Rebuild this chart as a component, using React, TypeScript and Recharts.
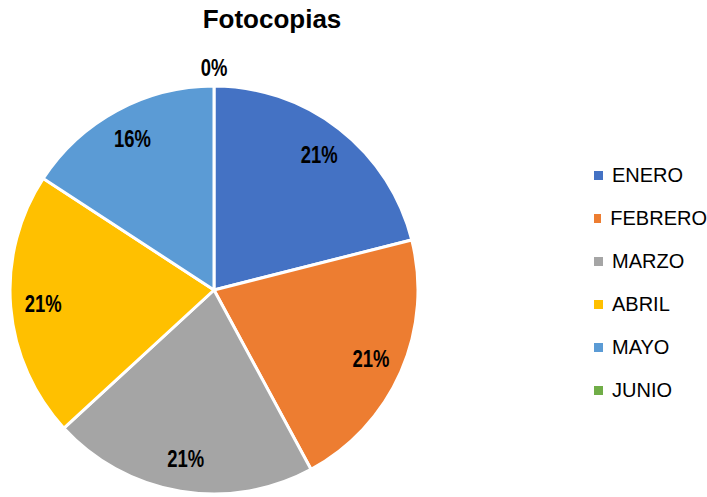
import { Cell, Legend, Pie, PieChart } from 'recharts';

const months = ['ENERO', 'FEBRERO', 'MARZO', 'ABRIL', 'MAYO', 'JUNIO'];
const copies = [4, 4, 4, 4, 3, 0];
const colors = ['#4472C4', '#ED7D31', '#A5A5A5', '#FFC000', '#5B9BD5', '#70AD47'];

const data = months.map((name, i) => ({ name, value: copies[i] }));

const RAD = Math.PI / 180;
const baseFont = '"Liberation Sans", Arial, sans-serif';

function renderLabel(props: any) {
  const { cx, cy, midAngle, outerRadius, percent, value } = props;
  const r = value === 0 ? outerRadius + 18 : outerRadius * 0.84;
  const x = cx + r * Math.cos(-midAngle * RAD);
  const y = cy + r * Math.sin(-midAngle * RAD);
  const txt = `${Math.round(percent * 100)}%`;
  // narrow bold look: squeeze glyphs like Arial Narrow
  const len = 22.5 * (0.456 * (txt.length - 1) + 0.729);
  return (
    <text
      x={x}
      y={y}
      textAnchor="middle"
      dominantBaseline="central"
      fontFamily={baseFont}
      fontWeight="bold"
      fontSize={23}
      textLength={len}
      lengthAdjust="spacingAndGlyphs"
      fill="#000"
    >
      {txt}
    </text>
  );
}

function renderLegend() {
  return (
    <ul style={{ listStyle: 'none', margin: 0, padding: 0 }}>
      {months.map((m, i) => (
        <li
          key={m}
          style={{ display: 'flex', alignItems: 'center', height: 43, fontFamily: baseFont, fontSize: 20, color: '#000' }}
        >
          <span style={{ display: 'inline-block', width: 9, height: 9, background: colors[i], marginRight: 9 }} />
          {m}
        </li>
      ))}
    </ul>
  );
}

export default function App() {
  return (
    <div style={{ position: 'absolute', left: 0, top: 0, width: 707, height: 497, background: '#fff' }}>
      <div
        style={{
          position: 'absolute',
          left: 0,
          width: 544,
          top: 4,
          textAlign: 'center',
          fontFamily: baseFont,
          fontWeight: 'bold',
          fontSize: 26,
          color: '#000'
        }}
      >
        Fotocopias
      </div>
      <PieChart width={707} height={497} margin={{ top: 0, right: 0, bottom: 0, left: 0 }}>
        <Pie
          data={data}
          dataKey="value"
          nameKey="name"
          cx={214}
          cy={290}
          outerRadius={204}
          startAngle={90}
          endAngle={-270}
          stroke="#fff"
          strokeWidth={3}
          label={renderLabel}
          labelLine={false}
          isAnimationActive={false}
        >
          {data.map((d, i) => (
            <Cell key={d.name} fill={colors[i]} />
          ))}
        </Pie>
        <Legend
          layout="vertical"
          align="right"
          verticalAlign="top"
          content={renderLegend}
          wrapperStyle={{ position: 'absolute', left: 594, top: 154, width: 113 }}
        />
      </PieChart>
    </div>
  );
}
